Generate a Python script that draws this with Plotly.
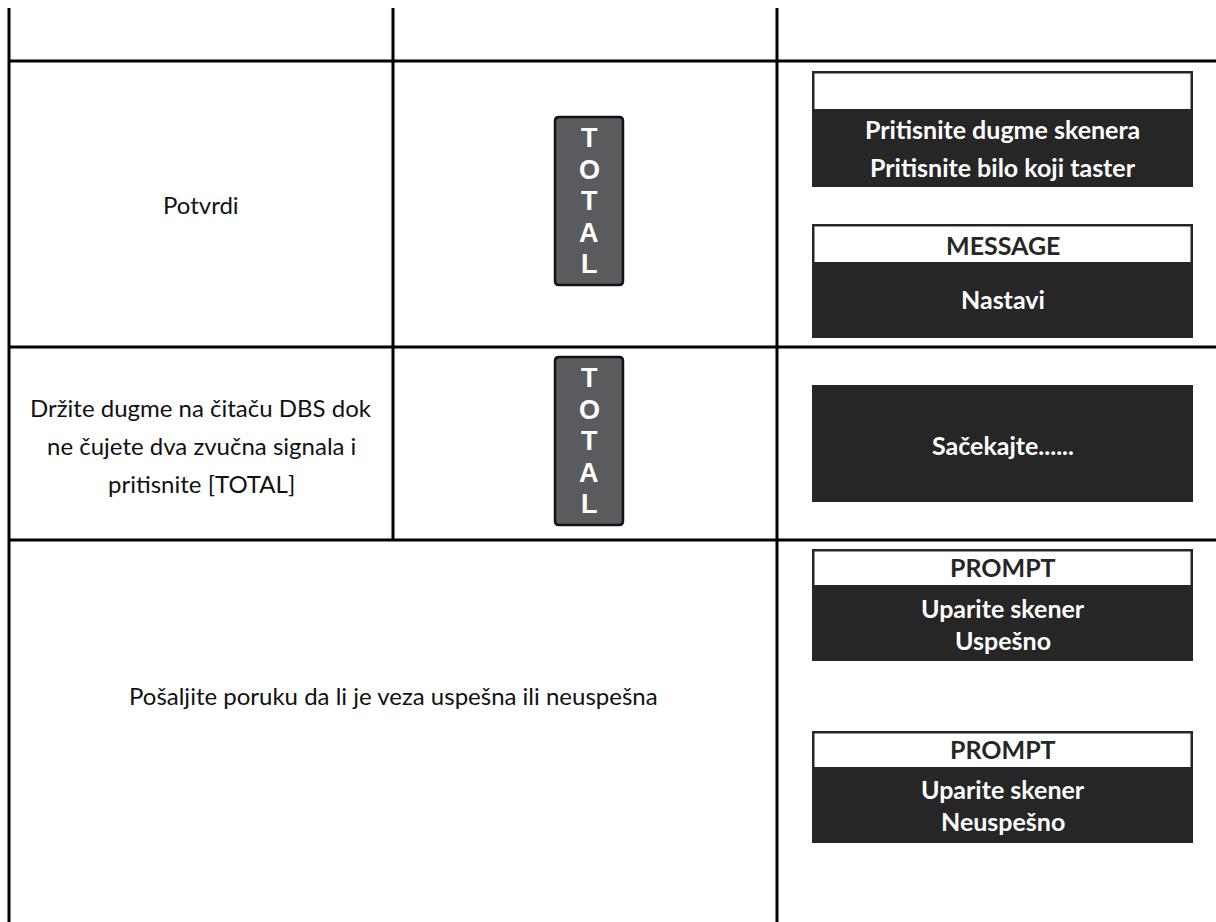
import plotly.graph_objects as go

# ---------------- content ----------------
left_texts = [
    ["Potvrdi"],
    ["Držite dugme na čitaču DBS dok", "ne čujete dva zvučna signala i", "pritisnite [TOTAL]"],
    ["Pošaljite poruku da li je veza uspešna ili neuspešna"],
]
key_label = "TOTAL"
key_rows = [0, 1]
screen_rows = [0, 0, 1, 2, 2]
screen_headers = ["", "MESSAGE", None, "PROMPT", "PROMPT"]
screen_bodies = [
    ["Pritisnite dugme skenera", "Pritisnite bilo koji taster"],
    ["Nastavi"],
    ["Sačekajte......"],
    ["Uparite skener", "Uspešno"],
    ["Uparite skener", "Neuspešno"],
]

# ---------------- geometry (pixels) ----------------
W, H = 1216, 922
col_edges = [9, 393, 777, 1216]
row_edges = [8, 61, 347, 540, 922]
left_text_y = [204, 445, 695]
left_line_step = 38
key_x = (555, 623)
key_center_y = [201, 441]
key_h = 168
key_letter_step = 31.5
screen_x = (812, 1193)
screen_top = [71, 224, 385, 549, 731]
screen_header_bottom = [109, 262, None, 585, 767]
screen_bottom = [187, 338, 502, 661, 843]
header_text_y = [90, 245, None, 567, 749]
body_text_y = [[129, 167], [299], [445], [608, 640], [789, 821]]

LINE = "#000000"
DARK = "#262626"
KEY_FILL = "#5a5b5e"
FONT = "Lato"
BOX_FONT_SIZE = 25
LEFT_FONT_SIZE = 24

fig = go.Figure()
shapes = []
annos = []

def line(x0, y0, x1, y1, w=3, color=LINE):
    shapes.append(dict(type="line", xref="x", yref="y", x0=x0, y0=y0, x1=x1, y1=y1,
                       line=dict(color=color, width=w)))

def rect(x0, y0, x1, y1, fill, lw=0, lc=None):
    shapes.append(dict(type="rect", xref="x", yref="y", x0=x0, y0=y0, x1=x1, y1=y1,
                       fillcolor=fill, line=dict(width=lw, color=lc or fill), layer="above"))

def text(x, y, s, size, color, bold=False, family=FONT):
    annos.append(dict(x=x, y=y, xref="x", yref="y", text=(f"<b>{s}</b>" if bold else s),
                      showarrow=False, xanchor="center", yanchor="middle",
                      font=dict(family=family, size=size, color=color)))

# table grid
for y in row_edges[1:4]:
    line(col_edges[0], y, col_edges[3], y)
line(col_edges[0], row_edges[0], col_edges[0], row_edges[4])
line(col_edges[1], row_edges[0], col_edges[1], row_edges[3])
line(col_edges[2], row_edges[0], col_edges[2], row_edges[4])

# left texts
for i, lines in enumerate(left_texts):
    if i < 2:
        cx = (col_edges[0] + col_edges[1]) / 2
    else:
        cx = (col_edges[0] + col_edges[2]) / 2
    n = len(lines)
    for j, s in enumerate(lines):
        y = left_text_y[i] + (j - (n - 1) / 2) * left_line_step
        text(cx, y, s, LEFT_FONT_SIZE, "#111111")

# TOTAL keys
for k, r in enumerate(key_rows):
    cy = key_center_y[k]
    y0, y1 = cy - key_h / 2, cy + key_h / 2
    x0, x1 = key_x
    rr = 4
    path = (f"M{x0+rr},{y0} L{x1-rr},{y0} Q{x1},{y0} {x1},{y0+rr} L{x1},{y1-rr} "
            f"Q{x1},{y1} {x1-rr},{y1} L{x0+rr},{y1} Q{x0},{y1} {x0},{y1-rr} "
            f"L{x0},{y0+rr} Q{x0},{y0} {x0+rr},{y0} Z")
    shapes.append(dict(type="path", xref="x", yref="y", path=path, fillcolor=KEY_FILL,
                       line=dict(color="#111111", width=2.5), layer="above"))
    n = len(key_label)
    for j, ch in enumerate(key_label):
        y = cy + (j - (n - 1) / 2) * key_letter_step
        text((x0 + x1) / 2, y, ch, 27, "white", bold=True, family="Liberation Sans")

# screens
bw = 2.5
for s in range(len(screen_rows)):
    x0, x1 = screen_x
    rect(x0, screen_top[s], x1, screen_bottom[s], DARK)
    if screen_headers[s] is not None:
        rect(x0 + bw, screen_top[s] + bw, x1 - bw, screen_header_bottom[s], "white")
        if screen_headers[s]:
            text((x0 + x1) / 2, header_text_y[s], screen_headers[s], BOX_FONT_SIZE, DARK, bold=True)
    for j, b in enumerate(screen_bodies[s]):
        text((x0 + x1) / 2, body_text_y[s][j], b, BOX_FONT_SIZE, "white", bold=True)

fig.update_layout(
    width=W, height=H, margin=dict(l=0, r=0, t=0, b=0),
    paper_bgcolor="white", plot_bgcolor="white",
    xaxis=dict(range=[0, W], visible=False, fixedrange=True),
    yaxis=dict(range=[H, 0], visible=False, fixedrange=True),
    shapes=shapes, annotations=annos, showlegend=False,
)
fig.write_html("out.html", config={"displayModeBar": False},
               post_script="document.body.style.margin='0';document.body.style.padding='0';")
